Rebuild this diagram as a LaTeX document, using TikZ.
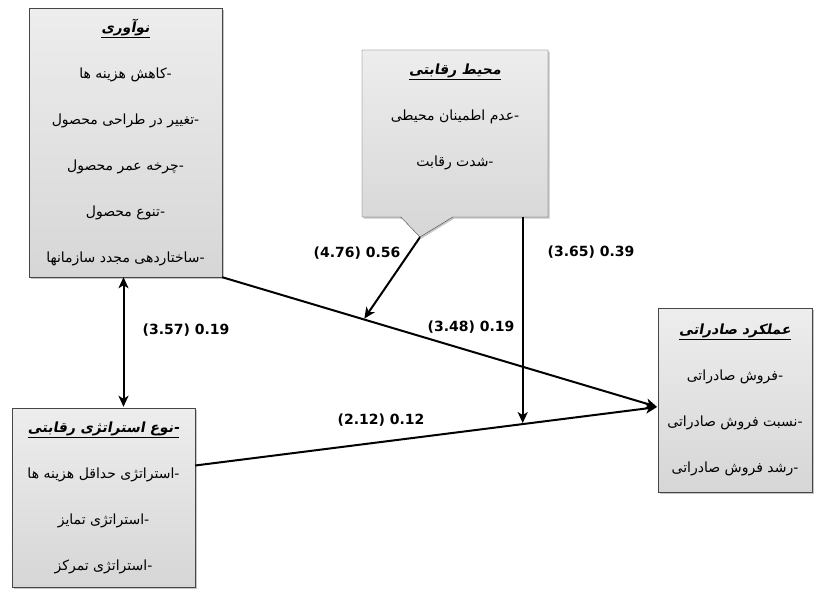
\documentclass[tikz,border=0pt]{standalone}
\usepackage{fontspec}
\setmainfont{DejaVu Sans}
\newfontfamily\farsifont[Script=Arabic]{DejaVu Sans}
\newfontfamily\farsititle[Script=Arabic,FakeSlant=0.18]{DejaVu Sans Bold}
\TeXXeTstate=1
\usepackage{tikz}
\usetikzlibrary{arrows,arrows.meta,positioning,calc,shadows,shapes.callouts}
\newcommand{\fa}[1]{\beginR\mbox{-}#1\endR}
\newcommand{\fatitle}[1]{\underline{\farsititle\beginR #1\endR}}
\tikzset{
    boxnode/.style={rectangle, draw=gray!55!black, top color=gray!14, bottom color=gray!32, thin, align=center, inner sep=0pt,
        font=\farsifont\fontsize{14}{46}\selectfont,
        drop shadow={opacity=0.45, shadow xshift=1.5pt, shadow yshift=-1.5pt}},
    myarrow/.style={->, >={Stealth[length=11pt, width=10pt, inset=3pt]}, shorten >=1pt, line width=2pt},
    numlabel/.style={font=\bfseries\fontsize{14}{16}\selectfont, inner sep=1pt}
}
\begin{document}
\begin{tikzpicture}[x=1pt,y=-1pt]
\useasboundingbox[fill=white] (0,0) rectangle (820,590);

\node[boxnode, minimum width=193pt, minimum height=269pt] (innov) at (125.5,142.5)
  {\fatitle{نوآوری}\\ \fa{کاهش هزینه ها}\\ \fa{تغییر در طراحی محصول}\\ \fa{چرخه عمر محصول}\\ \fa{تنوع محصول}\\ \fa{ساختاردهی مجدد سازمانها}};
\node[boxnode, rectangle callout, callout absolute pointer={(420,237)}, callout pointer width=52pt, minimum width=186pt, minimum height=167pt] (env) at (455,133.5)
  {\fatitle{محیط رقابتی}\\ \fa{عدم اطمینان محیطی}\\ \fa{شدت رقابت}\\[-10pt]};
\node[boxnode, minimum width=154pt, minimum height=184pt] (perf) at (735,400)
  {\fatitle{عملکرد صادراتی}\\ \fa{فروش صادراتی}\\ \fa{نسبت فروش صادراتی}\\ \fa{رشد فروش صادراتی}};
\node[boxnode, minimum width=183pt, minimum height=179pt] (strat) at (103.5,497.5)
  {\underline{\farsititle\beginR\mbox{-}نوع استراتژی رقابتی\endR}\\ \fa{استراتژی حداقل هزینه ها}\\ \fa{استراتژی تمایز}\\ \fa{استراتژی تمرکز}};

\coordinate (meet) at ([yshift=-7pt]perf.west);
\coordinate (sout) at ([yshift=32pt]strat.east);
\coordinate (hitA) at ($(innov.south east)!0.325!(meet)$);
\coordinate (hitB) at ($(sout)!0.708!(meet)$);

\draw[myarrow] (innov.south east) -- (meet);
\draw[myarrow] (sout) -- (meet);
\draw[myarrow] (env.pointer) -- (hitA);
\draw[myarrow] (hitB |- env.south) -- (hitB);
\draw[myarrow, <->] ([xshift=-2pt]innov.south) -- ([xshift=-2pt]innov.south |- strat.north);

\node[numlabel] (c1) at (357,253) {(4.76) 0.56};
\node[numlabel] (c2) at (591,252) {(3.65) 0.39};
\node[numlabel] (c3) at (186,330) {(3.57) 0.19};
\node[numlabel] (c4) at (471,327) {(3.48) 0.19};
\node[numlabel] (c5) at (381,420) {(2.12) 0.12};
\end{tikzpicture}
\end{document}
